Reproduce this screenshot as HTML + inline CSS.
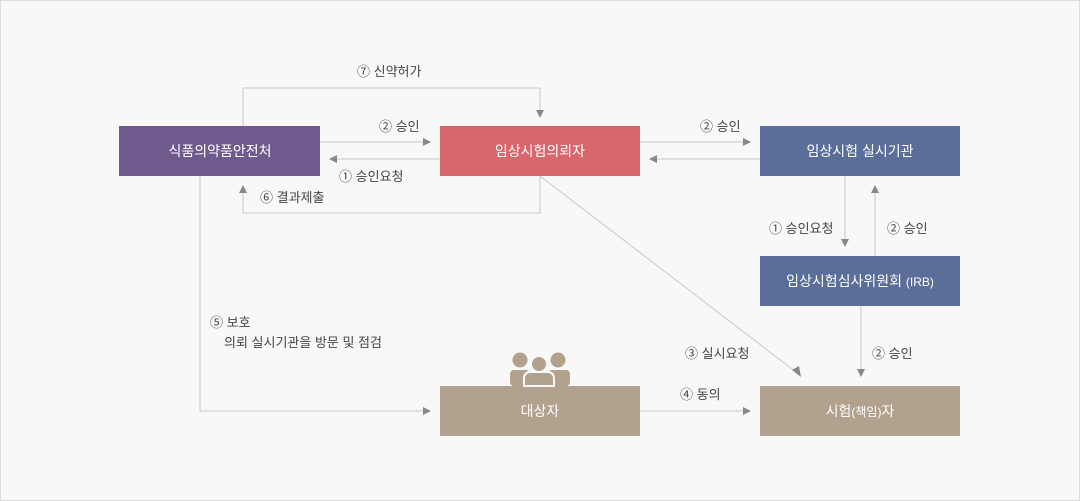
<!DOCTYPE html>
<html><head><meta charset="utf-8"><style>
body{margin:0;width:1080px;height:501px;overflow:hidden;background:#fff}
svg{display:block}
text{font-family:"Liberation Sans","Noto Sans CJK KR",sans-serif;}
.l{font-size:13px;fill:#444}
.b{font-size:14px;fill:#fff;text-anchor:middle}
</style></head><body>
<svg width="1080" height="501" viewBox="0 0 1080 501">
<rect x="0.5" y="0.5" width="1079" height="500" fill="#f8f8f8" stroke="#ddd"/>
<g stroke="#c8c8c8" stroke-width="1" fill="none">
<polyline points="243,126 243,88 540,88 540,110"/>
<line x1="320" y1="142" x2="424" y2="142"/>
<line x1="440" y1="159" x2="336" y2="159"/>
<polyline points="540,176 540,213 243,213 243,192"/>
<line x1="640" y1="142" x2="744" y2="142"/>
<line x1="760" y1="159" x2="656" y2="159"/>
<line x1="845" y1="176" x2="845" y2="240"/>
<line x1="875" y1="256" x2="875" y2="192"/>
<line x1="861" y1="306" x2="861" y2="370"/>
<line x1="540" y1="176" x2="796" y2="372"/>
<polyline points="200,176 200,411 424,411"/>
<line x1="640" y1="411" x2="744" y2="411"/>
</g>
<g fill="#888">
<polygon points="536,110 544,110 540,118"/>
<polygon points="423,138 423,146 431,142"/>
<polygon points="337,155 337,163 329,159"/>
<polygon points="239,193 247,193 243,185"/>
<polygon points="743,138 743,146 751,142"/>
<polygon points="657,155 657,163 649,159"/>
<polygon points="841,239 849,239 845,247"/>
<polygon points="871,193 879,193 875,185"/>
<polygon points="857,369 865,369 861,377"/>
<polygon points="792,370 799,366 801,377"/>
<polygon points="423,407 423,415 431,411"/>
<polygon points="743,407 743,415 751,411"/>
</g>
<rect x="119" y="126" width="201" height="50" fill="#6e5a8c"/>
<rect x="440" y="126" width="200" height="50" fill="#d8676d"/>
<rect x="760" y="126" width="200" height="50" fill="#5a6e99"/>
<rect x="760" y="256" width="200" height="50" fill="#5a6e99"/>
<rect x="440" y="386" width="200" height="50" fill="#b2a28d"/>
<rect x="760" y="386" width="200" height="50" fill="#b2a28d"/>
<g fill="#b2a28d">
<circle cx="520" cy="360" r="7.5"/><circle cx="558" cy="360" r="7.5"/>
<rect x="510" y="370" width="20" height="16" rx="4"/><rect x="548" y="370" width="22" height="16" rx="4"/>
<circle cx="539" cy="364" r="8" stroke="#f8f8f8" stroke-width="2"/>
<path d="M524,386 v-8 a6,6 0 0 1 6,-6 h18 a6,6 0 0 1 6,6 v8z" stroke="#f8f8f8" stroke-width="2"/>
</g>
<text class="b" x="220" y="156">식품의약품안전처</text>
<text class="b" x="540" y="156">임상시험의뢰자</text>
<text class="b" x="860" y="156">임상시험 실시기관</text>
<text class="b" x="860" y="286">임상시험심사위원회 <tspan font-size="12">(IRB)</tspan></text>
<text class="b" x="540" y="416">대상자</text>
<text class="b" x="860" y="416">시험<tspan font-size="12">(책임)</tspan>자</text>
<text class="l" x="357" y="76">⑦ 신약허가</text>
<text class="l" x="379" y="131">② 승인</text>
<text class="l" x="339" y="181">① 승인요청</text>
<text class="l" x="260" y="202">⑥ 결과제출</text>
<text class="l" x="700" y="131">② 승인</text>
<text class="l" x="769" y="233">① 승인요청</text>
<text class="l" x="887" y="233">② 승인</text>
<text class="l" x="210" y="327">⑤ 보호</text>
<text class="l" x="224" y="347">의뢰 실시기관을 방문 및 점검</text>
<text class="l" x="685" y="358">③ 실시요청</text>
<text class="l" x="872" y="358">② 승인</text>
<text class="l" x="680" y="399">④ 동의</text>
</svg>
</body></html>
